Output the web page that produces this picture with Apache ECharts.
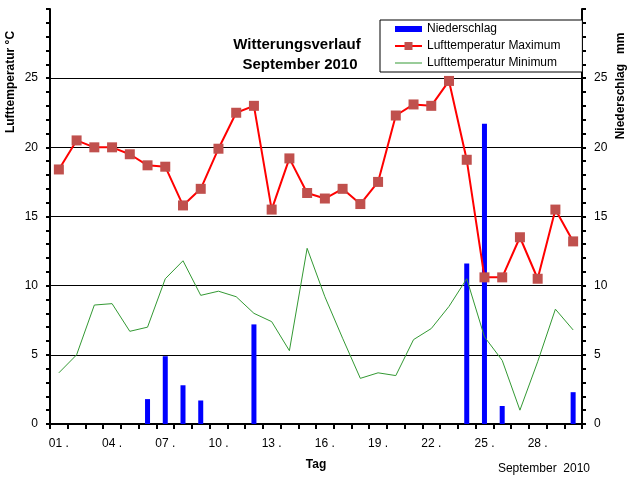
<!DOCTYPE html>
<html>
<head>
<meta charset="utf-8">
<script src="https://cdn.jsdelivr.net/npm/echarts@6/dist/echarts.min.js"></script>
<style>html,body{margin:0;padding:0;background:#fff}#c{width:633px;height:483px}</style>
</head>
<body>
<div id="c"></div>
<script>
const days = ['01','02','03','04','05','06','07','08','09','10','11','12','13','14','15','16','17','18','19','20','21','22','23','24','25','26','27','28','29','30'];
const niederschlag = [0,0,0,0,0,1.8,4.9,2.8,1.7,0,0,7.2,0,0,0,0,0,0,0,0,0,0,0,11.6,21.7,1.3,0,0,0,2.3];
const tempMax = [18.4,20.5,20.0,20.0,19.5,18.7,18.6,15.8,17.0,19.9,22.5,23.0,15.5,19.2,16.7,16.3,17.0,15.9,17.5,22.3,23.1,23.0,24.8,19.1,10.6,10.6,13.5,10.5,15.5,13.2];
const tempMin = [3.7,5.0,8.6,8.7,6.7,7.0,10.5,11.8,9.3,9.6,9.2,8.0,7.4,5.3,12.7,9.2,6.2,3.3,3.7,3.5,6.1,6.9,8.5,10.5,6.3,4.6,1.0,4.5,8.3,6.8];
const yTicks = [0,5,10,15,20,25];

const FONT = '"Liberation Sans", Arial, sans-serif';
const chart = echarts.init(document.getElementById('c'), null, {renderer:'canvas'});

function yAxisCfg(pos){
  return {
    type:'value', position:pos, min:0, max:30, interval:5,
    axisLine:{show:true, lineStyle:{color:'#000', width:2}},
    axisTick:{show:true, inside:false, length:4, lineStyle:{color:'#000', width:2}},
    minorTick:{show:true, splitNumber:5, length:4, lineStyle:{color:'#000', width:2}},
    axisLabel:{margin:12, color:'#000', fontSize:12, fontFamily:FONT,
      formatter:function(v){ return yTicks.indexOf(v) >= 0 ? String(v) : ''; }},
    splitLine:{show:pos==='left', lineStyle:{color:['transparent','#000','#000','#000','#000','#000','transparent'], width:1}}
  };
}

chart.setOption({
  animation:false,
  backgroundColor:'#fff',
  grid:{left:50, right:51, top:9, bottom:59, containLabel:false},
  legend:{
    orient:'vertical', left:380, top:20,
    padding:[2,22,2,14], itemGap:3,
    itemWidth:27, itemHeight:10, symbolKeepAspect:true,
    borderColor:'#000', borderWidth:1, backgroundColor:'#fff',
    textStyle:{color:'#000', fontSize:12, fontFamily:FONT, lineHeight:14},
    data:[
      {name:'Niederschlag', icon:'path://M0,0H27V6H0Z'},
      {name:'Lufttemperatur Maximum'},
      {name:'Lufttemperatur Minimum', icon:'path://M0,0H27V1H0Z'}
    ]
  },
  xAxis:{
    type:'category', data:days, boundaryGap:true,
    name:'Tag', nameLocation:'middle', nameGap:35,
    nameTextStyle:{color:'#000', fontWeight:'bold', fontSize:12, fontFamily:FONT},
    axisLine:{lineStyle:{color:'#000', width:2}},
    axisTick:{show:true, interval:0, length:5, lineStyle:{color:'#000', width:2}},
    axisLabel:{interval:2, margin:14, color:'#000', fontSize:12, fontFamily:FONT,
      formatter:function(v){ return v + ' .'; }},
    splitLine:{show:false}
  },
  yAxis:[yAxisCfg('left'), yAxisCfg('right')],
  series:[
    {name:'Niederschlag', type:'bar', yAxisIndex:1, data:niederschlag, barWidth:5,
      itemStyle:{color:'#0000FF'}},
    {name:'Lufttemperatur Maximum', type:'line', yAxisIndex:0, data:tempMax,
      symbol:'rect', symbolSize:10, showAllSymbol:true,
      lineStyle:{color:'#FF0000', width:2},
      itemStyle:{color:'#C0504D', borderWidth:0}},
    {name:'Lufttemperatur Minimum', type:'line', yAxisIndex:0, data:tempMin,
      symbol:'none', lineStyle:{color:'#339933', width:1},
      itemStyle:{color:'#339933'}}
  ],
  graphic:[
    {type:'text', x:297, y:45, style:{text:'Witterungsverlauf', align:'center', verticalAlign:'middle',
      font:'bold 15px '+FONT, fill:'#000'}},
    {type:'text', x:300, y:65, style:{text:'September 2010', align:'center', verticalAlign:'middle',
      font:'bold 15px '+FONT, fill:'#000'}},
    {type:'text', x:590, y:469, style:{text:'September  2010', align:'right', verticalAlign:'middle',
      font:'12px '+FONT, fill:'#000'}},
    {type:'text', x:11, y:82, rotation:Math.PI/2, style:{text:'Lufttemperatur °C', align:'center', verticalAlign:'middle',
      font:'bold 12px '+FONT, fill:'#000'}},
    {type:'text', x:621, y:86, rotation:Math.PI/2, style:{text:'Niederschlag   mm', align:'center', verticalAlign:'middle',
      font:'bold 12px '+FONT, fill:'#000'}}
  ]
});
</script>
</body>
</html>
